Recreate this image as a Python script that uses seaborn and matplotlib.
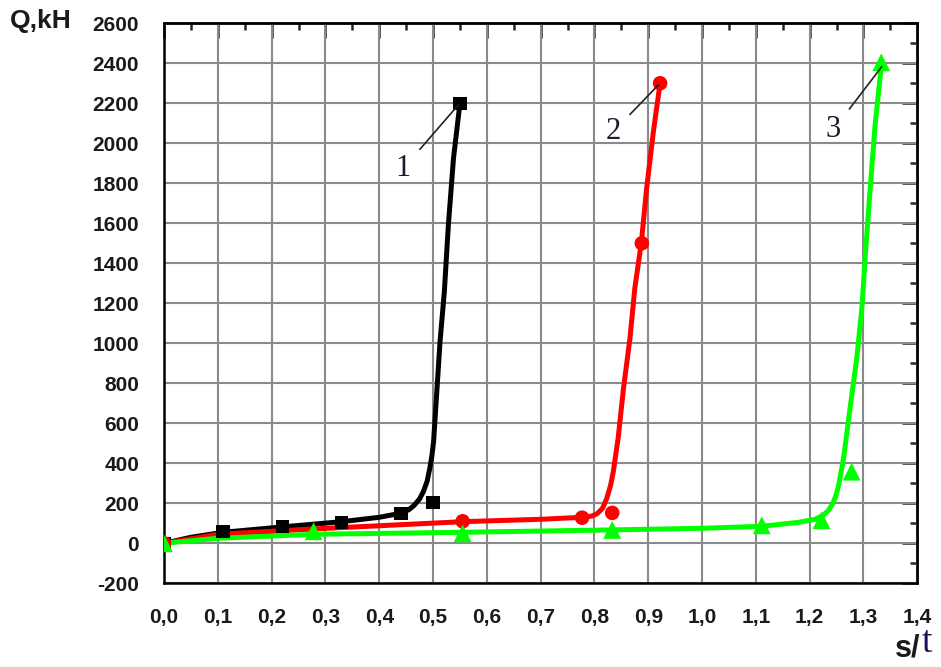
import matplotlib
matplotlib.use("Agg")
import matplotlib.pyplot as plt
from matplotlib.ticker import MultipleLocator
import seaborn as sns
import pandas as pd
import numpy as np

# Puntos medidos (marcadores)
x_1 = [0.0, 0.11, 0.22, 0.33, 0.44, 0.50, 0.55]
q_1 = [0, 60, 85, 105, 150, 205, 2200]
x_2 = [0.0, 0.555, 0.777, 0.833, 0.888, 0.922]
q_2 = [0, 110, 128, 152, 1500, 2300]
x_3 = [0.0, 0.278, 0.555, 0.833, 1.111, 1.222, 1.278, 1.333]
q_3 = [0, 60, 50, 67, 90, 115, 358, 2405]

# Curvas de ajuste
lx_1 = [0.0, 0.05, 0.11, 0.22, 0.33, 0.40, 0.44, 0.455, 0.465, 0.475, 0.482, 0.489,
        0.494, 0.498, 0.501, 0.507, 0.513, 0.521, 0.5285, 0.538, 0.55]
lq_1 = [0, 30, 55, 82, 108, 130, 150, 168, 190, 222, 258, 310,
        375, 440, 508, 758, 1008, 1258, 1592, 1925, 2200]
lx_2 = [0.0, 0.1, 0.28, 0.555, 0.70, 0.777, 0.795, 0.805, 0.815, 0.823, 0.83, 0.835,
        0.844, 0.854, 0.866, 0.875, 0.887, 0.897, 0.9095, 0.922]
lq_2 = [0, 45, 72, 108, 120, 130, 136, 148, 175, 225, 290, 358,
        525, 775, 1025, 1275, 1500, 1775, 2058, 2300]
lx_3 = [0.0, 0.1, 0.28, 0.555, 0.833, 1.0, 1.111, 1.18, 1.21, 1.225, 1.235, 1.243,
        1.249, 1.254, 1.263, 1.275, 1.2875, 1.297, 1.303, 1.312, 1.3216, 1.334]
lq_3 = [0, 25, 45, 55, 67, 75, 85, 105, 120, 140, 165, 200,
        240, 292, 425, 675, 925, 1175, 1425, 1758, 2092, 2408]

curvas = ["1", "2", "3"]
colores = {"1": "#000000", "2": "#ff0000", "3": "#00ff00"}
marcadores = {"1": "s", "2": "o", "3": "^"}
tamanos = {"1": 95, "2": 110, "3": 165}

x_ticks = [0.0, 0.1, 0.2, 0.3, 0.4, 0.5, 0.6, 0.7, 0.8, 0.9, 1.0, 1.1, 1.2, 1.3, 1.4]
x_tick_labels = ["0,0", "0,1", "0,2", "0,3", "0,4", "0,5", "0,6", "0,7",
                 "0,8", "0,9", "1,0", "1,1", "1,2", "1,3", "1,4"]
y_ticks = list(range(-200, 2601, 200))

# etiquetas de curva: (texto, punto final, posicion del texto)
etiquetas = [("1", (0.547, 2192), (0.445, 1875)),
             ("2", (0.919, 2292), (0.835, 2058)),
             ("3", (1.334, 2383), (1.244, 2067))]

df_puntos = pd.concat([
    pd.DataFrame({"s": x_1, "Q": q_1, "curva": "1"}),
    pd.DataFrame({"s": x_2, "Q": q_2, "curva": "2"}),
    pd.DataFrame({"s": x_3, "Q": q_3, "curva": "3"}),
])
df_lineas = pd.concat([
    pd.DataFrame({"s": lx_1, "Q": lq_1, "curva": "1"}),
    pd.DataFrame({"s": lx_2, "Q": lq_2, "curva": "2"}),
    pd.DataFrame({"s": lx_3, "Q": lq_3, "curva": "3"}),
])

sns.set_style("white")
plt.rcParams["font.family"] = ["Liberation Sans", "DejaVu Sans"]

fig = plt.figure(figsize=(9.41, 6.67), dpi=100)
ax = fig.add_axes([0.1743, 0.1255, 0.8005, 0.8396])

sns.lineplot(data=df_lineas, x="s", y="Q", hue="curva", palette=colores,
             sort=False, estimator=None, linewidth=3.6, legend=False, ax=ax, zorder=3)
sns.scatterplot(data=df_puntos, x="s", y="Q", hue="curva", style="curva", size="curva",
                palette=colores, markers=marcadores, sizes=tamanos, edgecolor="none",
                legend=False, ax=ax, zorder=4)

ax.set_xlim(0, 1.4)
ax.set_ylim(-200, 2600)
ax.set_xticks(x_ticks)
ax.set_xticklabels(x_tick_labels)
ax.set_yticks(y_ticks)
ax.set_yticklabels([str(v) for v in y_ticks])
ax.xaxis.set_minor_locator(MultipleLocator(0.05))
ax.yaxis.set_minor_locator(MultipleLocator(100))
ax.grid(True, which="major", color="#8a8a8a", linewidth=1.5)
ax.set_axisbelow(True)

for sp in ax.spines.values():
    sp.set_color("black")
    sp.set_linewidth(1.8)

ax.tick_params(which="major", direction="out", length=11, width=1.8,
               labelsize=15, pad=7, colors="black")
ax.tick_params(which="minor", direction="out", length=5, width=1.8)
ax.tick_params(axis="x", which="both", top=False)
ax.tick_params(axis="y", which="both", right=False)
for lab in ax.get_xticklabels() + ax.get_yticklabels():
    lab.set_fontweight("bold")
    lab.set_color("#1a1a1a")

# ticks interiores arriba y a la derecha
sec_x = ax.secondary_xaxis("top")
sec_x.set_xticks(x_ticks)
sec_x.xaxis.set_minor_locator(MultipleLocator(0.05))
sec_x.tick_params(which="major", direction="in", length=11, width=1.8, labeltop=False)
sec_x.tick_params(which="minor", direction="in", length=5, width=1.8)
sec_x.spines["top"].set_linewidth(1.8)
sec_y = ax.secondary_yaxis("right")
sec_y.set_yticks(y_ticks)
sec_y.yaxis.set_minor_locator(MultipleLocator(100))
sec_y.tick_params(which="major", direction="in", length=11, width=1.8, labelright=False)
sec_y.tick_params(which="minor", direction="in", length=5, width=1.8)
sec_y.spines["right"].set_linewidth(1.8)

ax.set_xlabel("")
ax.set_ylabel("")

for txt, punto, pos in etiquetas:
    ax.annotate(txt, xy=punto, xytext=pos, ha="center", va="center",
                fontsize=22, family=["Liberation Serif", "DejaVu Serif"],
                color="#1c1c2e", zorder=6,
                arrowprops=dict(arrowstyle="-", color="#222222", lw=1.2,
                                shrinkA=6, shrinkB=0))

fig.text(0.010, 0.968, "Q,kH", fontsize=19, fontweight="bold", ha="left", va="center",
         color="#1a1a1a")
fig.text(0.978, 0.028, "s/", fontsize=22, fontweight="bold", ha="right", va="center",
         color="#1a1a1a")
fig.text(0.979, 0.036, "t", fontsize=27, family=["Liberation Serif", "DejaVu Serif"],
         ha="left", va="center", color="#14145a")

fig.savefig("out.png", dpi=100)
